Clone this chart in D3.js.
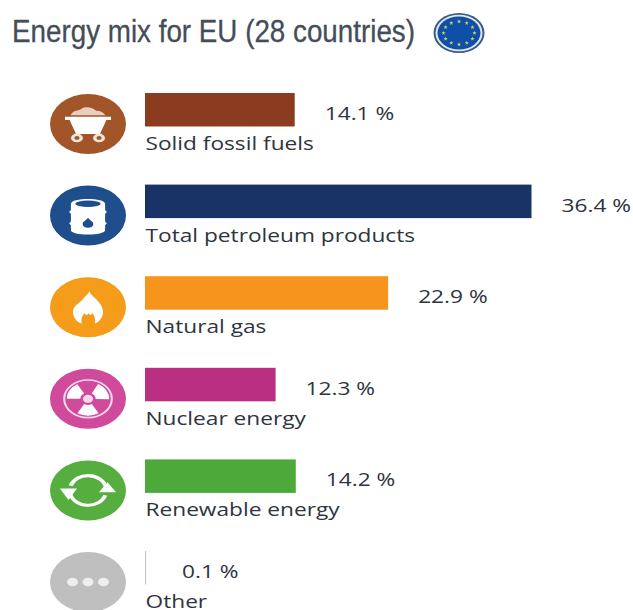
<!DOCTYPE html>
<html>
<head>
<meta charset="utf-8">
<script src="https://cdn.jsdelivr.net/npm/d3@7/dist/d3.min.js"></script>
<style>
html,body{margin:0;padding:0;background:#fff;}
svg{display:block;}
</style>
</head>
<body>
<svg id="chart" width="633" height="610"></svg>
<script>
// Energy mix figures, in percent of the total
const categories = ["Solid fossil fuels","Total petroleum products","Natural gas","Nuclear energy","Renewable energy","Other"];
const shares = [14.1,36.4,22.9,12.3,14.2,0.1];
const colors = ["#8b3c1e","#1a3366","#f7941d","#bb2f82","#4da939","#c4c4c4"];
const iconColors = ["#a3552a","#1f4e8c","#f59c1a","#cf4a9b","#55ae3e","#bfbfbf"];
const iconKinds = ["coal","barrel","flame","atom","cycle","dots"];
const chartTitle = "Energy mix for EU (28 countries)";

const svg = d3.select("#chart");
const ink = "#2e3440";
const labelFont = "'Open Sans', sans-serif";
const textStretch = 1.22;

const x = d3.scaleLinear().domain([0,36.4]).range([0,386.5]);
const y = d3.scalePoint().domain(categories).range([124,582]);

svg.append("text").attr("x",12).attr("y",42)
  .attr("font-family","'Liberation Sans Narrow','Liberation Sans',sans-serif")
  .attr("font-size",31).attr("fill","#454c5a").attr("stroke","#454c5a").attr("stroke-width",0.3)
  .attr("textLength",403).attr("lengthAdjust","spacingAndGlyphs")
  .text(chartTitle);

// EU flag badge beside the title
const flag = svg.append("g").attr("transform","translate(459,33)");
flag.append("ellipse").attr("rx",25.5).attr("ry",20).attr("fill","#3d5a80");
flag.append("ellipse").attr("rx",23.5).attr("ry",18.3).attr("fill","#dfe8f2");
flag.append("ellipse").attr("rx",21.5).attr("ry",16.5).attr("fill","#0f4fa8");
d3.range(12).forEach(i=>{
  const a=i*Math.PI/6;
  flag.append("path").attr("d",d3.symbol(d3.symbolStar,6))
    .attr("transform",`translate(${15.5*Math.sin(a)},${-11.5*Math.cos(a)})`)
    .attr("fill","#c9cf6a");
});

const rows = svg.selectAll("g.row").data(categories).join("g").attr("class","row")
  .attr("transform",d=>`translate(0,${y(d)})`);

// Bars and their labels
rows.append("rect").attr("x",145).attr("y",-31).attr("height",33.5)
  .attr("width",(d,i)=>Math.max(1,x(shares[i])))
  .attr("fill",(d,i)=>colors[i]);

rows.append("text")
  .attr("transform",`translate(145.5,26) scale(${textStretch},1)`)
  .attr("font-family",labelFont).attr("font-size",18.6).attr("fill",ink)
  .text(d=>d);

rows.append("text")
  .attr("transform",(d,i)=>`translate(${145+x(shares[i])+(shares[i]<1?36:30)},-4) scale(${textStretch},1)`)
  .attr("font-family",labelFont).attr("font-size",18.6).attr("fill",ink)
  .text((d,i)=>shares[i].toFixed(1)+" %");

// Round category badges, slightly squashed
const badge = rows.append("g").attr("transform","translate(88,0) scale(1,0.79)");
badge.append("circle").attr("r",38).attr("fill",(d,i)=>iconColors[i]);

const glyphs = {
  coal(g){
    g.attr("transform","scale(.92,.84)");
    g.append("path").attr("d","M-19,-13 C-16,-22 -10,-19 -7,-23 C-2,-28 6,-24 9,-20 C14,-20 17,-17 19,-13 Z").attr("fill","#f3e4d9").attr("opacity",.85);
    g.append("path").attr("d","M-25,-11 H25 V-6 H20 L13,15 H-13 L-20,-6 H-25 Z").attr("fill","#fff");
    [-12,12].forEach(c=>{
      g.append("circle").attr("cx",c).attr("cy",21).attr("r",6.5).attr("fill","#f2e3d8");
      g.append("circle").attr("cx",c).attr("cy",21).attr("r",2.8).attr("fill","#a3552a");
    });
  },
  barrel(g){
    g.attr("transform","translate(0,1) scale(.9,.8)");
    g.append("path").attr("d","M-19,-20 C-19,-30 19,-30 19,-20 L19,-10 L21,-7 L19,-4 L19,8 L21,11 L19,14 L19,22 C19,31 -19,31 -19,22 L-19,14 L-21,11 L-19,8 L-19,-4 L-21,-7 L-19,-10 Z").attr("fill","#fff");
    g.append("ellipse").attr("cy",-20).attr("rx",14).attr("ry",5).attr("fill","#1f4e8c");
    g.append("path").attr("d","M0,2 C2,6 6,8 6,12 A6,6 0 0 1 -6,12 C-6,8 -2,6 0,2 Z").attr("fill","#1f4e8c");
  },
  flame(g){
    g.attr("transform","translate(0,1) scale(.68,.68)");
    g.append("path").attr("d","M2,-31 C5,-20 21,-12 22,6 C23,20 13,28 10,29 C12,22 9,12 6,10 C5,14 3,14 1,10 C-1,14 -3,14 -5,10 C-8,13 -11,22 -9,29 C-15,27 -23,18 -22,6 C-21,-6 -12,-9 -8,-16 C-5,-21 0,-25 2,-31 Z").attr("fill","#fff");
  },
  atom(g){
    g.attr("transform","scale(.85,.85)");
    g.append("circle").attr("r",28).attr("fill","none").attr("stroke","#f6d6ea").attr("stroke-width",2.5);
    const arc=d3.arc().innerRadius(9).outerRadius(25);
    [[-Math.PI/2-.55,-Math.PI/2+.55].map(v=>v+Math.PI/2+Math.PI/3),
     [-.52,.52].map(v=>v+Math.PI),
     [-.52,.52].map(v=>v-Math.PI/3)].forEach(([a,b])=>{
      g.append("path").attr("d",arc({startAngle:a,endAngle:b})).attr("fill","#fff");
    });
    g.append("circle").attr("r",6).attr("fill","#f6d6ea");
  },
  cycle(g){
    g.attr("transform","scale(.78,.8)");
    const arc=d3.arc().innerRadius(21).outerRadius(26);
    g.append("path").attr("d",arc({startAngle:-1.25,endAngle:1.35})).attr("fill","#fff");
    g.append("path").attr("d",arc({startAngle:1.9,endAngle:4.5})).attr("fill","#fff");
    g.append("path").attr("d","M14,3 L36,3 L25,-13 Z").attr("fill","#fff");
    g.append("path").attr("d","M-36,-3 L-14,-3 L-25,15 Z").attr("fill","#fff");
  },
  dots(g){
    [-15.5,0,15.5].forEach(c=>g.append("circle").attr("cx",c).attr("r",5.5).attr("fill","#eeeeee"));
  }
};
badge.append("g").each(function(d,i){ glyphs[iconKinds[i]](d3.select(this)); });
</script>
</body>
</html>
